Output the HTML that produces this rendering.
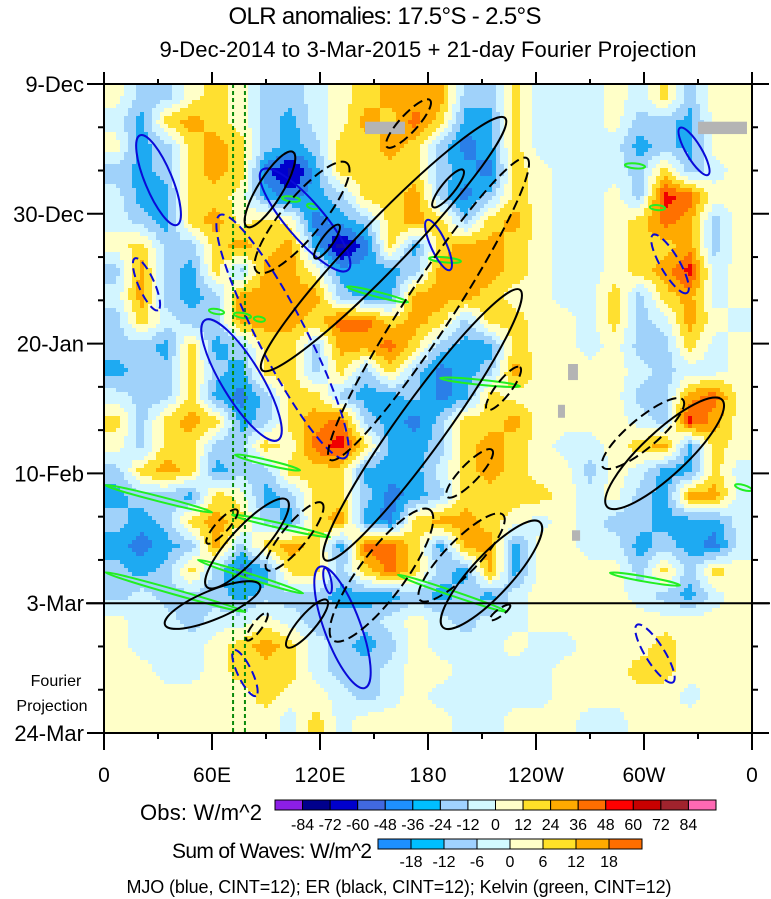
<!DOCTYPE html>
<html><head><meta charset="utf-8"><style>
html,body{margin:0;padding:0;background:#fff;}
svg{display:block;font-family:"Liberation Sans",sans-serif;}
</style></head><body>
<svg id="chart" width="771" height="899" viewBox="0 0 771 899" xmlns="http://www.w3.org/2000/svg">
<defs>
<clipPath id="plotclip"><rect x="104" y="84" width="648" height="649"/></clipPath>
</defs>
<text x="385" y="24" text-anchor="middle" font-size="24" textLength="313">OLR anomalies: 17.5°S - 2.5°S</text>
<text x="428" y="57" text-anchor="middle" font-size="22" textLength="537">9-Dec-2014 to 3-Mar-2015 + 21-day Fourier Projection</text>
<rect x="104" y="84" width="648" height="649" fill="#ffffc8"/>
<g id="heat" clip-path="url(#plotclip)" shape-rendering="crispEdges"></g>
<g id="missing" clip-path="url(#plotclip)"></g>
<g id="contours" clip-path="url(#plotclip)"></g>
<g id="axes"></g>
<text x="140" y="820" font-size="22" textLength="122">Obs: W/m^2</text>
<g id="leg1"></g>
<text x="172" y="858" font-size="21" textLength="200">Sum of Waves: W/m^2</text>
<g id="leg2"></g>
<text x="399" y="893" text-anchor="middle" font-size="18" textLength="545">MJO (blue, CINT=12); ER (black, CINT=12); Kelvin (green, CINT=12)</text>
</svg>
<script>
// ---- data ----
const heatRows = [
"0bb0y0bba0yoo"+"obbyaaa0ayb00",
"acyoy0bca0oyr"+"yccyaaa0bbc00",
"0cbyoybcbyyoy"+"bdcyaaaacbc00",
"bcbyoydecyyyy"+"bcdy0aaabyba0",
"accyy0cdcbyyo"+"bdby0aa0bRr00",
"abcyo0y0dcbyo"+"ybyo0aa0yrob0",
"0ybbyoyocedyc"+"yooy0aa0yyob0",
"bobcyboo0cccb"+"oooy0aa0yoRa0",
"aobcboooobcco"+"ooy00aaybyoa0",
"byabboooyrryo"+"ybyy00aybao0a",
"bbcycbyyboory"+"bccy00a0bbya0",
"cbbybcyybybyb"+"dcbo0000abaa0",
"abbycdbyybccb"+"dcy00000bbor0",
"ybyoycbyorbcd"+"byyo0000abRo0",
"0byybby0rRycc"+"byoy0aa0yocy0",
"byoycbbyyyccc"+"ayoy00b0accya",
"cbbcy0cbyybdc"+"byyyy0a0bcooa",
"bcbyoybcyocdy"+"ooy0a0abbccca",
"cdcbobyoycrry"+"cooc00aacbcda",
"bcbybdcyybyry"+"bcoc0000byby0",
"babbbcbbbcccb"+"cbca0000abca0",
"0aabaa0abbba0"+"abaa000000000",
"0aaa0yoyabcb0"+"aaa0aa000y000",
"00aa0yyyabba0"+"0aaaa000yy000",
"000000y00aba0"+"aaaaa00000a00",
"0000000aya000"+"0aa000aa00000"
];
const heatLevels = {"e":-66,"d":-42,"c":-30,"b":-18,"a":-6,"0":6,"y":18,"o":30,"r":42,"R":54};
const xTickLons = [0,60,120,180,240,300,360];
const xTickLabels = ["0","60E","120E","180","120W","60W","0"];
const xTickLens = [15,38,51,37,56,43,15];
const yTickDays = [0,21,42,63,84,105];
const yTickLabels = ["9-Dec","30-Dec","20-Jan","10-Feb","3-Mar","24-Mar"];
const obsBounds = ["-84","-72","-60","-48","-36","-24","-12","0","12","24","36","48","60","72","84"];
const waveBounds = ["-18","-12","-6","0","6","12","18"];
// contours: [lon1, day1, lon2, day2]
const mjoPos = [[20,8.3,40.6,22.8],[56.1,38.2,96.7,57.6],[87.8,13.9,135.6,30.1],[320,7.1,335.6,14.7],[120,78.1,145,97.7],[179.5,22,192.2,30.1],[122.8,78.3,125.6,82.4]];
const mjoNeg = [[17.2,28.2,30,36.6],[64.4,21.2,133.9,60.5],[305,24.4,323.9,33.8],[72.2,91.6,84.4,99],[296.1,87.5,316.1,96.8]];
const erPos = [[79.4,23.1,105,11],[117.2,28.2,130.6,22.8],[87.8,46.3,222.8,5.5],[182.8,19.9,199.5,13.9],[122.8,77,231.1,33.3],[57.2,81.4,101.7,67.3],[33.9,87.5,86.7,81.1],[101.7,91.1,123.9,83.5],[188.3,87.9,242.2,70.9],[279.5,68.4,343.4,51.1]];
const erNeg = [[157.2,10.2,181.1,2.6],[85,30.4,135,12.8],[125.6,60.8,235,12],[212.8,52.7,231.1,45.8],[277.2,62,321.7,51.1],[90.6,78.6,121.1,67.8],[57.2,74.3,73.9,68.9],[127.2,90,181.1,68.9],[175.6,83.5,221.7,69.7],[190.6,66.8,215.6,59.2],[79.4,90,90.6,85.6],[214.5,86.7,225.6,84.3]];
const kelvin = [[0.6,64.9,60,69.3],[71.1,69.7,125.6,73.3],[52.2,77,110.6,82.4],[0.6,79,78.3,85.4],[163.3,79.4,223.9,85.4],[135,32.8,168.9,35.3],[186.7,47.6,231.1,48.9],[72.8,60,108.9,62.5],[350.6,64.9,360,65.7],[281.1,79.1,320,81.1],[98.9,18.4,108.9,18.8],[112.8,19.6,118.9,20],[58.3,36.6,66.7,37],[72.2,37.2,81.7,37.7],[83.3,37.9,89.4,38.2],[180.6,28.2,198.3,28.7],[289.4,13.1,300.6,13.4],[303.3,19.9,311.7,20.1]];
const missing = [[145,6.1,167.2,8.1],[330,6.1,357.2,8.1],[257.8,45.3,263.3,47.9],[252.2,51.9,256.1,54],[260,72.2,264.5,73.9]];
const guideLons = [71.7,78.3];
// ---- scales ----
const X0=104,X1=752,Y0=84,Y1=733;
const xs = l => X0 + (l/360)*(X1-X0);
const ys = d => Y0 + (d/105)*(Y1-Y0);
const NS="http://www.w3.org/2000/svg";
function mk(tag, attrs, parent){const e=document.createElementNS(NS,tag);for(const k in attrs)e.setAttribute(k,attrs[k]);parent.appendChild(e);return e;}
function levelColor(v){
  if(v<-60)return"#1010a8"; if(v<-48)return"#0000cd"; if(v<-36)return"#2a7fe8"; if(v<-24)return"#1eaaf2";
  if(v<-12)return"#a0d2fa"; if(v<0)return"#d2f5ff"; if(v<12)return"#ffffc8"; if(v<24)return"#ffe030";
  if(v<36)return"#ffaa00"; if(v<48)return"#ff7000"; return"#f00000";
}
// heatmap: smooth rendering of grid values (bilinear between cell centres)
const hg=document.getElementById('heat');
const nR=heatRows.length, nC=heatRows[0].length;
const vals=heatRows.map(r=>r.split('').map(ch=>heatLevels[ch]));
function val(lon,day){
  let fc=lon/360*nC-0.5, fr=day/105*nR-0.5;
  fc=Math.max(0,Math.min(nC-1,fc)); fr=Math.max(0,Math.min(nR-1,fr));
  const c0=Math.floor(fc), r0=Math.floor(fr), c1=Math.min(nC-1,c0+1), r1=Math.min(nR-1,r0+1);
  const tx=fc-c0, ty=fr-r0;
  return (vals[r0][c0]*(1-tx)+vals[r0][c1]*tx)*(1-ty)+(vals[r1][c0]*(1-tx)+vals[r1][c1]*tx)*ty;
}
const STEP=4;
for(let py=Y0;py<Y1;py+=STEP){
  let runStart=X0, runCol=null;
  for(let px=X0;px<=X1;px+=STEP){
    let col=null;
    if(px<X1){const lon=(px+STEP/2-X0)/(X1-X0)*360, day=(py+STEP/2-Y0)/(Y1-Y0)*105;col=levelColor(val(lon,day));}
    if(col!==runCol){
      if(runCol && runCol!=="#ffffc8"){const cell=mk('rect',{x:runStart,y:py,width:px-runStart,height:STEP,fill:runCol},hg);
        
        }
      runStart=px; runCol=col;
    }
  }
}
// missing
const mg=document.getElementById('missing');
missing.forEach(m=>{const e=mk('rect',{x:xs(m[0]),y:ys(m[1]),width:xs(m[2])-xs(m[0]),height:ys(m[3])-ys(m[1]),fill:"#b4b4b4"},mg);
  
  });
// contours
const cg=document.getElementById('contours');
function ell(seg,stroke,dash,w,sw,name){
  const x1=xs(seg[0]),y1=ys(seg[1]),x2=xs(seg[2]),y2=ys(seg[3]);
  const cx=(x1+x2)/2,cy=(y1+y2)/2,len=Math.hypot(x2-x1,y2-y1)/2;
  const ang=Math.atan2(y2-y1,x2-x1)*180/Math.PI;
  const e=mk('ellipse',{cx:cx,cy:cy,rx:len,ry:w,fill:"none",stroke:stroke,"stroke-width":sw,transform:`rotate(${ang} ${cx} ${cy})`},cg);
  if(dash)e.setAttribute('stroke-dasharray',dash);
  
  
}
function width(seg){const l=Math.hypot(xs(seg[2])-xs(seg[0]),ys(seg[3])-ys(seg[1]));return Math.max(3.5,Math.min(24,l*0.14));}
guideLons.forEach(l=>{const e=mk('line',{x1:xs(l),x2:xs(l),y1:Y0,y2:Y1,stroke:"#0a8a0a","stroke-width":2,"stroke-dasharray":"4 3"},cg);
  
  });
kelvin.forEach(s=>ell(s,"#22ee22",null,2.5,2,'kelvin-contour'));
mjoPos.forEach(s=>ell(s,"#0a0ad8",null,width(s),2,'mjo-positive-contour'));
mjoNeg.forEach(s=>ell(s,"#0a0ad8","9 5",width(s),2,'mjo-negative-contour'));
erPos.forEach(s=>ell(s,"#000",null,width(s),2,'er-positive-contour'));
erNeg.forEach(s=>ell(s,"#000","10 5",width(s),2,'er-negative-contour'));
// axes
const ax=document.getElementById('axes');
mk('rect',{x:X0,y:Y0,width:X1-X0,height:Y1-Y0,fill:"none",stroke:"#000","stroke-width":2},ax);
const hl=mk('line',{x1:86,x2:X1+18,y1:ys(84),y2:ys(84),stroke:"#000","stroke-width":2},ax);


for(let l=0;l<=360;l+=30){const maj=l%60===0;
  mk('line',{x1:xs(l),x2:xs(l),y1:Y1,y2:Y1+(maj?17:6),stroke:"#000","stroke-width":2},ax);
  mk('line',{x1:xs(l),x2:xs(l),y1:Y0,y2:Y0-(maj?12:5),stroke:"#000","stroke-width":2},ax);}
for(let d=0;d<=105;d+=7){const maj=d%21===0;
  mk('line',{x1:X0,x2:X0-(maj?17:6),y1:ys(d),y2:ys(d),stroke:"#000","stroke-width":2},ax);
  mk('line',{x1:X1,x2:X1+(maj?17:6),y1:ys(d),y2:ys(d),stroke:"#000","stroke-width":2},ax);}
xTickLons.forEach((l,i)=>{const t=mk('text',{x:xs(l),y:782,"text-anchor":"middle","font-size":21,textLength:xTickLens[i]},ax);t.textContent=xTickLabels[i];
  
  });
yTickDays.forEach((d,i)=>{const t=mk('text',{x:84,y:ys(d)+8,"text-anchor":"end","font-size":22},ax);t.textContent=yTickLabels[i];
  
  });
const f1=mk('text',{x:56,y:686,"text-anchor":"middle","font-size":16},ax);f1.textContent="Fourier";


const f2=mk('text',{x:52,y:711,"text-anchor":"middle","font-size":16},ax);f2.textContent="Projection";


// legends
const obsColors=["#8c1ee6","#00008c","#0000cd","#4169e1","#1e90ff","#00bfff","#a0d2ff","#d2faff","#ffffc8","#ffe128","#ffaa00","#ff6e00","#ff0000","#c80000","#a0232d","#ff69b4"];
const waveColors=["#1e90ff","#00bfff","#a0d2ff","#d2faff","#ffffc8","#ffe128","#ffaa00","#ff6e00"];
function bar(gid,x0,x1,y,h,cols,labels,ly,fs){
  const g=document.getElementById(gid);const w=(x1-x0)/cols.length;
  cols.forEach((c,i)=>{const r=mk('rect',{x:x0+i*w,y:y,width:w,height:h,fill:c,stroke:"#000","stroke-width":1},g);
    
    });
  labels.forEach((s,i)=>{const t=mk('text',{x:x0+(i+1)*w,y:ly,"text-anchor":"middle","font-size":fs},g);t.textContent=s;
    
    });
}
bar('leg1',275,716,800,10,obsColors,obsBounds,830,16);
bar('leg2',378,642,839,10,waveColors,waveBounds,867,16);
</script>
</body></html>
